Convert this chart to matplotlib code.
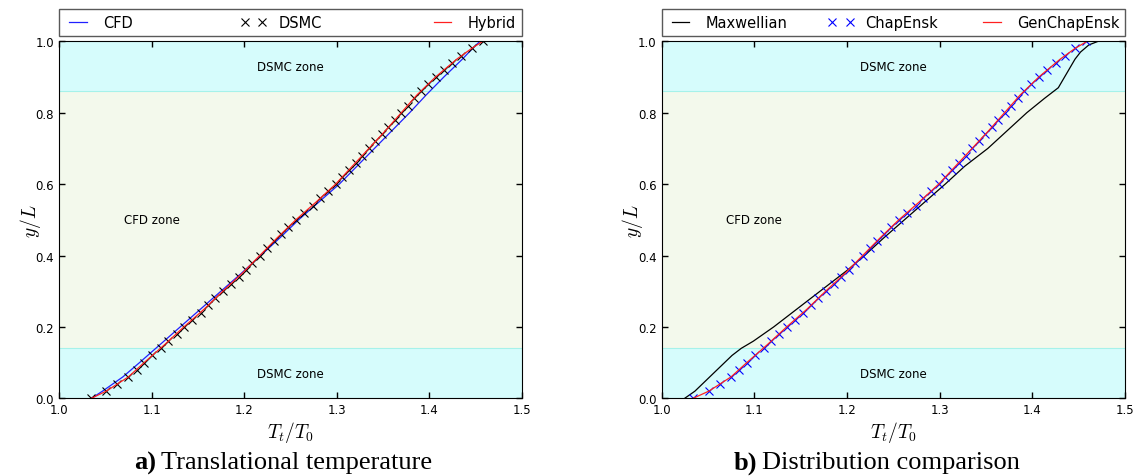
import matplotlib
matplotlib.use('Agg')
import matplotlib.pyplot as plt
import numpy as np

##---------------------------input data-------------------------------##
# left panel: translational temperature
y_line = [0.00, 0.02, 0.04, 0.06, 0.10, 0.15, 0.20, 0.25, 0.30, 0.35, 0.40, 0.45, 0.50,
          0.55, 0.60, 0.65, 0.70, 0.75, 0.80, 0.85, 0.90, 0.95, 0.98, 1.00]
t_cfd = [1.035, 1.047, 1.058, 1.069, 1.087, 1.109, 1.131, 1.153, 1.175, 1.197, 1.218, 1.239, 1.259,
         1.281, 1.303, 1.322, 1.341, 1.360, 1.379, 1.397, 1.416, 1.436, 1.447, 1.455]
t_hybrid = [1.035, 1.051, 1.063, 1.075, 1.092, 1.114, 1.135, 1.157, 1.177, 1.198, 1.217, 1.236, 1.256,
            1.278, 1.299, 1.317, 1.335, 1.353, 1.370, 1.387, 1.407, 1.430, 1.446, 1.458]

y_dsmc = [0.00, 0.02, 0.04, 0.06, 0.08, 0.10, 0.12, 0.14, 0.16, 0.18, 0.20, 0.22, 0.24, 0.26, 0.28,
          0.30, 0.32, 0.34, 0.36, 0.38, 0.40, 0.42, 0.44, 0.46, 0.48, 0.50, 0.52, 0.54, 0.56, 0.58,
          0.60, 0.62, 0.64, 0.66, 0.68, 0.70, 0.72, 0.74, 0.76, 0.78, 0.80, 0.82, 0.84, 0.86, 0.88,
          0.90, 0.92, 0.94, 0.96, 0.98, 1.00]
t_dsmc = [1.035, 1.051, 1.063, 1.075, 1.084, 1.092, 1.101, 1.110, 1.118, 1.127, 1.135, 1.144, 1.153,
          1.161, 1.169, 1.177, 1.186, 1.194, 1.202, 1.209, 1.217, 1.225, 1.232, 1.240, 1.248, 1.256,
          1.265, 1.274, 1.282, 1.291, 1.299, 1.306, 1.313, 1.321, 1.328, 1.335, 1.342, 1.349, 1.356,
          1.363, 1.370, 1.377, 1.384, 1.391, 1.399, 1.407, 1.416, 1.425, 1.435, 1.446, 1.458]

# right panel: distribution comparison
y_maxw = [0.00, 0.02, 0.06, 0.12, 0.14, 0.16, 0.20, 0.25, 0.30, 0.36, 0.40, 0.45, 0.50, 0.55,
          0.60, 0.65, 0.70, 0.75, 0.80, 0.84, 0.87, 0.91, 0.95, 0.97, 0.99, 1.00]
t_maxw = [1.025, 1.036, 1.052, 1.076, 1.086, 1.099, 1.121, 1.146, 1.171, 1.201, 1.219, 1.240, 1.262,
          1.284, 1.306, 1.327, 1.352, 1.373, 1.394, 1.413, 1.428, 1.437, 1.446, 1.452, 1.461, 1.471]
t_genchap = [1.034, 1.051, 1.063, 1.075, 1.092, 1.114, 1.135, 1.157, 1.177, 1.198, 1.217, 1.236, 1.256,
             1.278, 1.299, 1.317, 1.335, 1.353, 1.370, 1.387, 1.407, 1.430, 1.446, 1.459]
t_chap = [1.034, 1.051, 1.063, 1.075, 1.084, 1.092, 1.101, 1.110, 1.118, 1.127, 1.135, 1.144, 1.153,
          1.161, 1.169, 1.177, 1.186, 1.194, 1.202, 1.209, 1.217, 1.225, 1.232, 1.240, 1.248, 1.256,
          1.265, 1.274, 1.282, 1.291, 1.299, 1.306, 1.313, 1.321, 1.328, 1.335, 1.342, 1.349, 1.356,
          1.363, 1.370, 1.377, 1.384, 1.391, 1.399, 1.407, 1.416, 1.425, 1.435, 1.446, 1.458]

zone_low = 0.14
zone_high = 0.86
captions = [('a)', 'Translational temperature'), ('b)', 'Distribution comparison')]

##----------------------------style--------------------------------##
plt.rcParams['mathtext.fontset'] = 'cm'
plt.rcParams['font.family'] = 'DejaVu Sans'
plt.rcParams['xtick.direction'] = 'in'
plt.rcParams['ytick.direction'] = 'in'
plt.rcParams['xtick.top'] = True
plt.rcParams['ytick.right'] = True
plt.rcParams['xtick.major.size'] = 4
plt.rcParams['ytick.major.size'] = 4

fig = plt.figure(figsize=(11.4, 4.77), dpi=100)
ax1 = fig.add_axes([0.0518, 0.1629, 0.4057, 0.7484])
ax2 = fig.add_axes([0.5803, 0.1629, 0.4066, 0.7484])


def zones(ax):
    ax.axhspan(0, zone_low, color='#d6fcfc', zorder=0, lw=0)
    ax.axhspan(zone_high, 1, color='#d6fcfc', zorder=0, lw=0)
    ax.axhspan(zone_low, zone_high, color='#f3f9ec', zorder=0, lw=0)
    ax.axhline(zone_low, color='#a6f2ea', lw=0.8, zorder=1)
    ax.axhline(zone_high, color='#a6f2ea', lw=0.8, zorder=1)
    ax.text(1.25, 0.93, 'DSMC zone', ha='center', va='center', fontsize=8.5)
    ax.text(1.25, 0.07, 'DSMC zone', ha='center', va='center', fontsize=8.5)
    ax.text(1.10, 0.50, 'CFD zone', ha='center', va='center', fontsize=8.5)


def setup(ax):
    ax.set_xlim(1.0, 1.5)
    ax.set_ylim(0.0, 1.0)
    ax.set_xticks(np.arange(1.0, 1.51, 0.1))
    ax.set_yticks(np.arange(0.0, 1.01, 0.2))
    ax.tick_params(labelsize=8.5, width=1)
    ax.set_xlabel('$T_t/T_0$', fontsize=14, labelpad=2)
    ax.set_ylabel('$y/L$', fontsize=14, labelpad=-5)
    ax.legend(bbox_to_anchor=(0, 1.015, 1, 0.08), loc='lower left', mode='expand', ncol=3,
              borderaxespad=0, numpoints=2, fontsize=10.5, fancybox=False, edgecolor='0.35',
              handlelength=1.8, framealpha=1)


##----------------------------first graph----------------------------##
zones(ax1)
ax1.plot(t_cfd, y_line, color='#2020ff', lw=0.9, label='CFD')
ax1.plot(t_dsmc, y_dsmc, 'kx', ms=6, mew=0.8, label='DSMC')
ax1.plot(t_hybrid, y_line, color='#ff2020', lw=0.9, label='Hybrid')
setup(ax1)

##----------------------------second graph----------------------------##
zones(ax2)
ax2.plot(t_maxw, y_maxw, color='k', lw=0.9, label='Maxwellian')
ax2.plot(t_chap, y_dsmc, 'bx', ms=6, mew=0.8, label='ChapEnsk')
ax2.plot(t_genchap, y_line, color='#ff2020', lw=0.9, label='GenChapEnsk')
setup(ax2)

# captions
for (tag, text), xb, xt in zip(captions, [156 / 1140, 757 / 1140], [161 / 1140, 762 / 1140]):
    fig.text(xb, 1 - 463 / 477, tag, ha='right', va='center', fontsize=19,
             family='Liberation Serif', weight='bold')
    fig.text(xt, 1 - 463 / 477, text, ha='left', va='center', fontsize=19,
             family='Liberation Serif')

fig.savefig('out.png', dpi=100)
